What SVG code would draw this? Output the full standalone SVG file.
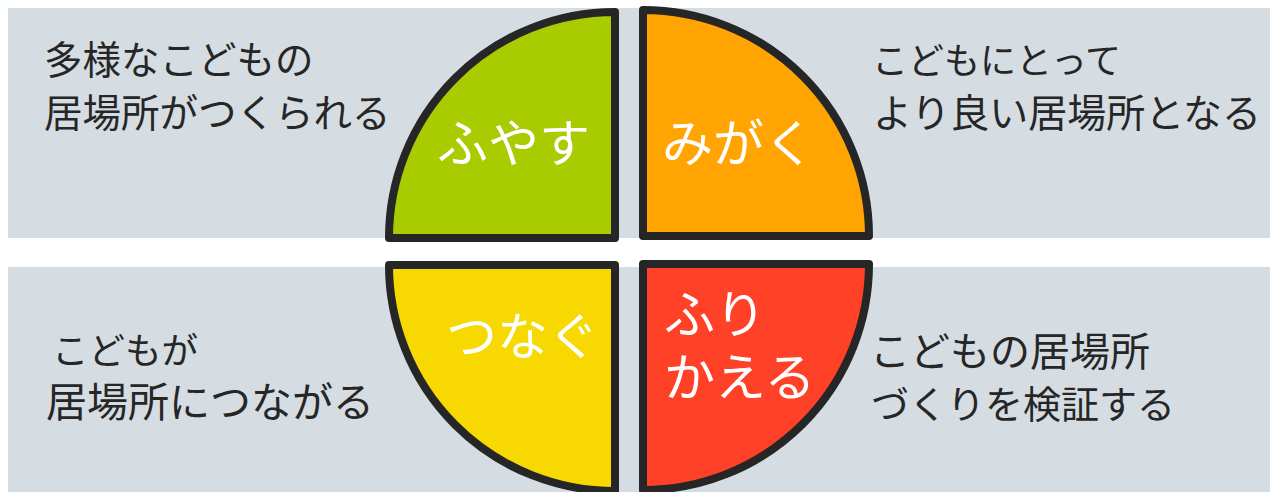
<svg xmlns="http://www.w3.org/2000/svg" width="1270" height="492" viewBox="0 0 1270 492">
<style>
.band{fill:#d5dde3}
.q{stroke:#262626;stroke-width:8;stroke-linejoin:round}
.lbl{font-family:"Noto Sans CJK JP","Noto Sans",sans-serif;font-size:38px;fill:#262626}
.w{font-family:"Noto Sans CJK JP","Noto Sans",sans-serif;font-size:51px;fill:#ffffff}
</style>
<rect width="1270" height="492" fill="#ffffff"/>
<rect class="band" x="8" y="8" width="1262" height="230"/>
<rect class="band" x="8" y="267" width="1262" height="225"/>
<g id="fuyasu">
<path class="q" d="M615,238 L389,238 A226,226 0 0 1 615,12 Z" fill="#a8cc00"/>
<text class="w" x="437" y="162">ふやす</text>
</g>
<g id="migaku">
<path class="q" d="M643,236 L643,10 A226,226 0 0 1 869,236 Z" fill="#ffa400"/>
<text class="w" x="662" y="162">みがく</text>
</g>
<g id="tsunagu">
<path class="q" d="M615,265 L615,491 A226,226 0 0 1 389,265 Z" fill="#f7d800"/>
<text class="w" x="446" y="355">つなぐ</text>
</g>
<g id="furikaeru">
<path class="q" d="M643,264 L869,264 A226,226 0 0 1 643,490 Z" fill="#ff4128"/>
<text class="w" x="664" y="333">ふり</text>
<text class="w" x="664" y="396">かえる</text>
</g>
<g id="label-tl">
<text class="lbl" x="44" y="74" style="font-size:38.5px">多様なこどもの</text>
<text class="lbl" x="44" y="127" style="font-size:38.5px">居場所がつくられる</text>
</g>
<g id="label-tr">
<text class="lbl" x="872" y="74" style="font-size:36px">こどもにとって</text>
<text class="lbl" x="873" y="127" style="font-size:39px">より良い居場所となる</text>
</g>
<g id="label-bl">
<text class="lbl" x="52" y="364" style="font-size:36.5px">こどもが</text>
<text class="lbl" x="46" y="417" style="font-size:41px">居場所につながる</text>
</g>
<g id="label-br">
<text class="lbl" x="870" y="366" style="font-size:40px">こどもの居場所</text>
<text class="lbl" x="871" y="418" style="font-size:38px">づくりを検証する</text>
</g>
<g id="connectors"></g>
</svg>
